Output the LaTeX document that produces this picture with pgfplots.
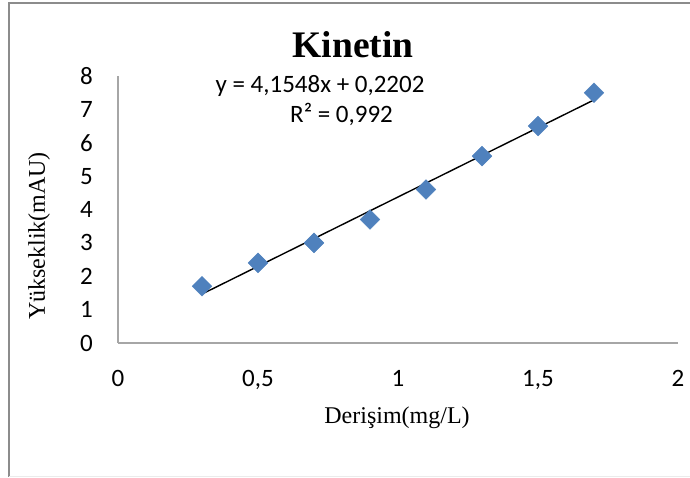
\documentclass[border=0pt]{standalone}
\usepackage{pgfplots}
\usepackage{pgfplotstable}
\pgfplotsset{compat=1.18}
\usepackage{fontspec}
\setmainfont{Liberation Serif}
\newfontfamily\calibri{Carlito}
\definecolor{excelblue}{HTML}{4F81BD}
\definecolor{axisgray}{HTML}{A6A6A6}
\definecolor{framegray}{HTML}{8C8C8C}
\pgfplotstableread{
x y
0.3 1.7
0.5 2.4
0.7 3.0
0.9 3.7
1.1 4.6
1.3 5.6
1.5 6.5
1.7 7.5
}\kinetin
\begin{document}
\begin{tikzpicture}
\useasboundingbox (-118pt,-135pt) rectangle (572pt,343pt);
\draw[framegray,line width=1.2pt] (-109pt,-134pt) -- (-109pt,340pt) -- (572pt,340pt);
\draw[black!8,line width=1pt] (-109pt,-134pt) -- (572pt,-134pt);
\begin{axis}[
  at={(0pt,0pt)}, anchor=south west,
  scale only axis, width=560pt, height=267pt,
  xmin=0, xmax=2, ymin=0, ymax=8,
  axis lines=left,
  axis line style={axisgray, line width=1.6pt, -},
  xtick={0,0.5,1,1.5,2}, ytick={0,1,...,8},
  xticklabels={0,{0,5},1,{1,5},2},
  major tick length=0pt,
  tick style={draw=none},
  /pgf/number format/assume math mode=true,
  ticklabel style={font=\calibri\fontsize{25}{30}\selectfont, inner sep=0pt},
  xticklabel style={anchor=north, yshift=-27pt},
  yticklabel style={anchor=east, xshift=-25pt},
  clip=false,
]
\addplot[only marks, mark=square*, mark size=7pt,
  mark options={rotate=45, fill=excelblue, draw=excelblue}]
  table[x=x, y=y] {\kinetin};
\addplot[black, line width=1.4pt, no marks]
  table[x=x, y={create col/linear regression={y=y}}] {\kinetin};
\end{axis}
\node[anchor=base, inner sep=0pt, font=\fontsize{37.5}{40}\selectfont\bfseries] at (235pt,285pt) {Kinetin};
\node[anchor=base, inner sep=0pt, font=\calibri\fontsize{25}{30}\selectfont] at (202pt,250.5pt) {y = 4,1548x + 0,2202};
\node[anchor=base, inner sep=0pt, font=\calibri\fontsize{25}{30}\selectfont] at (223.5pt,220pt) {R² = 0,992};
\node[anchor=base, inner sep=0pt, font=\fontsize{24}{28}\selectfont] at (279pt,-81pt) {Derişim(mg/L)};
\node[anchor=base, inner sep=0pt, rotate=90, font=\fontsize{24}{28}\selectfont] at (-73pt,107pt) {Yükseklik(mAU)};
\end{tikzpicture}
\end{document}
